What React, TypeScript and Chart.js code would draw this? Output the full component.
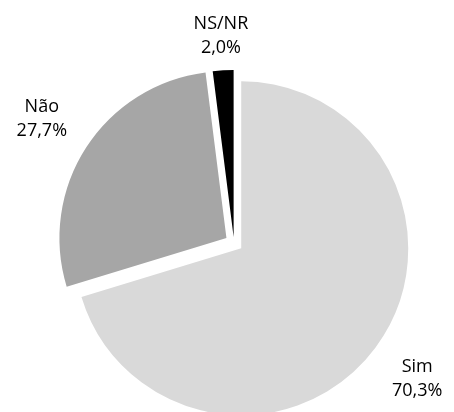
import React, { useEffect, useRef } from "react";
import { Chart, registerables } from "chart.js";

Chart.register(...registerables);

const categories = ["Sim", "Não", "NS/NR"];
const values = [70.3, 27.7, 2.0];

const COLORS = ["#d9d9d9", "#a6a6a6", "#000000"];
const EXPLODE = [9, 9, 6];
const LABEL_GAP = [52, 53, 35];
const FONT = "18px 'Open Sans', 'Noto Sans', sans-serif";

const fmt = (v: number) => v.toFixed(1).replace(".", ",") + "%";

const explodePlugin = {
  id: "explodeLabels",
  beforeDatasetDraw(chart: any, args: any) {
    const ctx = chart.ctx;
    args.meta.data.forEach((arc: any, i: number) => {
      const { startAngle, endAngle } = arc.getProps(["startAngle", "endAngle"], true);
      const mid = (startAngle + endAngle) / 2;
      ctx.save();
      ctx.translate(Math.cos(mid) * EXPLODE[i], Math.sin(mid) * EXPLODE[i]);
      arc.draw(ctx);
      ctx.restore();
    });
    return false;
  },
  afterDatasetsDraw(chart: any) {
    const ctx = chart.ctx;
    const meta = chart.getDatasetMeta(0);
    ctx.save();
    ctx.font = FONT;
    ctx.fillStyle = "#000000";
    ctx.textAlign = "center";
    ctx.textBaseline = "middle";
    meta.data.forEach((arc: any, i: number) => {
      const { x, y, startAngle, endAngle, outerRadius } = arc.getProps(
        ["x", "y", "startAngle", "endAngle", "outerRadius"],
        true
      );
      const mid = (startAngle + endAngle) / 2;
      const d = EXPLODE[i] + outerRadius + LABEL_GAP[i];
      const lx = x + Math.cos(mid) * d;
      const ly = y + Math.sin(mid) * d;
      ctx.fillText(categories[i], lx, ly - 12);
      ctx.fillText(fmt(values[i]), lx, ly + 12);
    });
    ctx.restore();
  },
};

export default function App() {
  const ref = useRef<HTMLCanvasElement | null>(null);
  useEffect(() => {
    if (!ref.current) return;
    const chart = new Chart(ref.current, {
      type: "pie",
      data: {
        labels: categories,
        datasets: [
          {
            data: values,
            backgroundColor: COLORS,
            borderWidth: 0,
          },
        ],
      },
      options: {
        responsive: false,
        animation: false,
        radius: 167,
        layout: { padding: { left: 14, top: 74, right: 0, bottom: 0 } },
        plugins: {
          legend: { display: false },
          tooltip: { enabled: false },
        },
      } as any,
      plugins: [explodePlugin],
    });
    return () => chart.destroy();
  }, []);
  return (
    <div style={{ position: "absolute", left: 0, top: 0, width: 454, height: 412, background: "#ffffff" }}>
      <canvas ref={ref} width={454} height={412} />
    </div>
  );
}
